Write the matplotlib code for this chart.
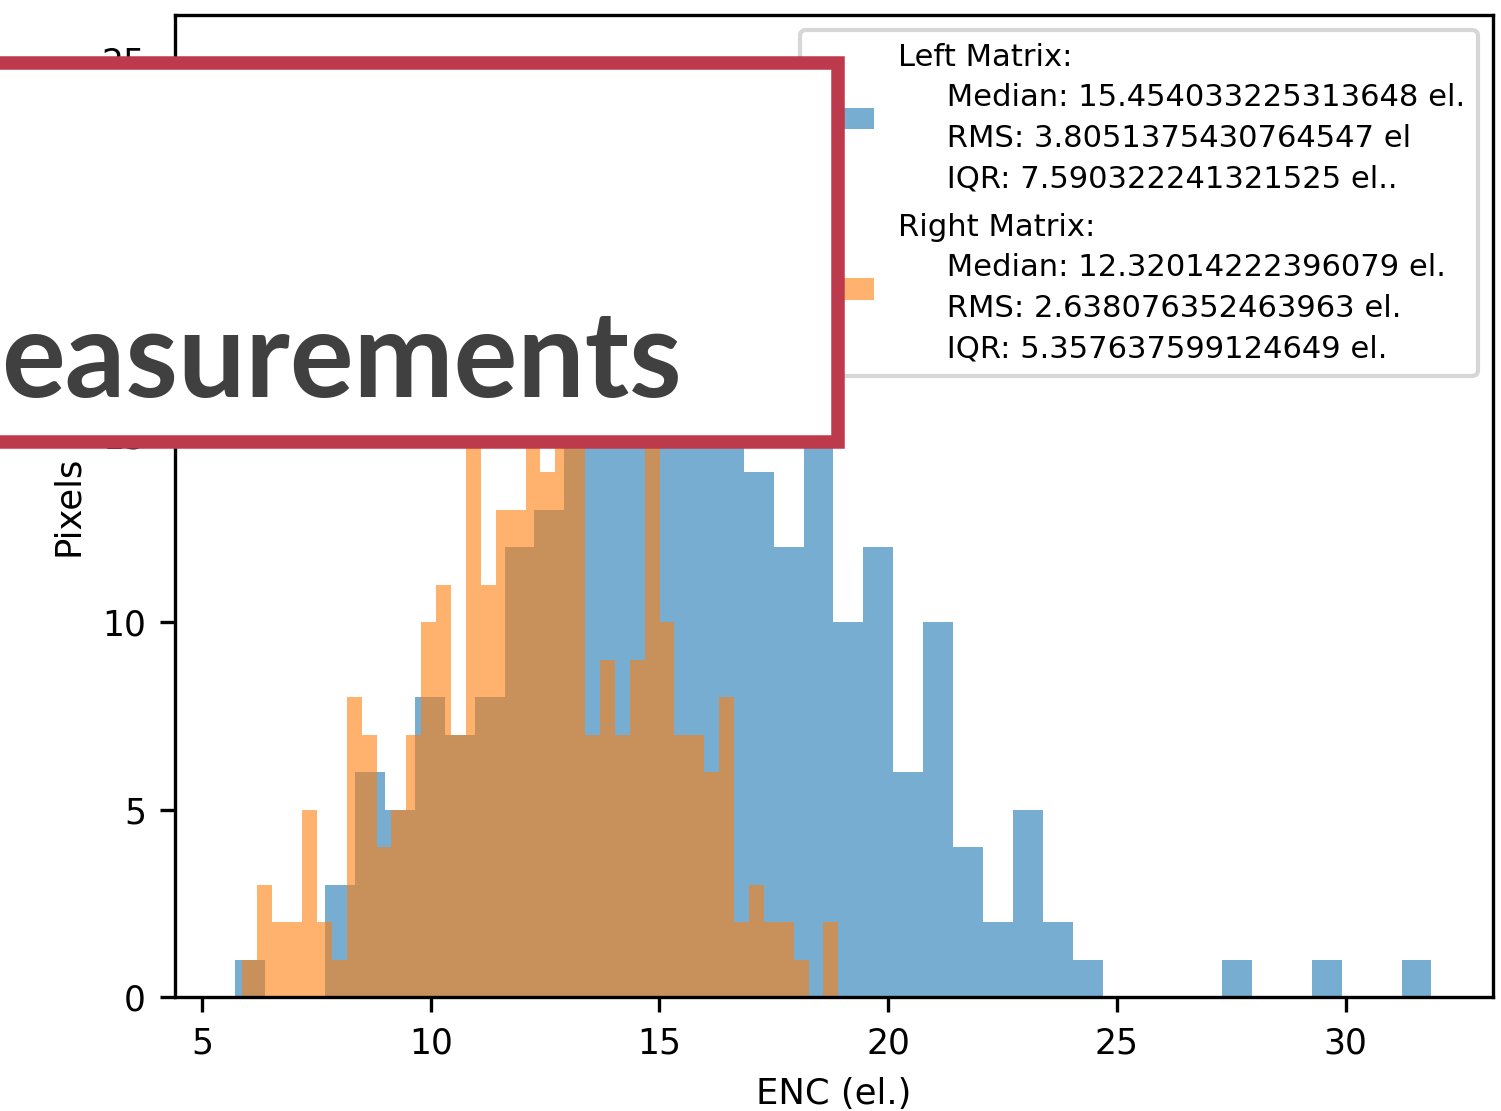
import numpy as np
import matplotlib
matplotlib.use("Agg")
import matplotlib.pyplot as plt
from matplotlib.patches import Rectangle

# ENC histograms, 40 bins each; counts
# (bars hidden under the title box are estimated)
LEFT_RANGE = (5.731, 31.874)
LEFT_COUNTS = [1, 0, 0, 3, 6, 5, 8, 7, 8, 12,
               13, 16, 21, 25, 19, 22, 17, 14, 12, 16,
               10, 12, 6, 10, 4, 2, 5, 2, 1, 0,
               0, 0, 0, 1, 0, 0, 1, 0, 0, 1]
RIGHT_RANGE = (5.885, 18.91)
RIGHT_COUNTS = [1, 3, 2, 2, 5, 2, 1, 8, 7, 4,
                5, 7, 10, 11, 7, 17, 11, 13, 13, 21,
                14, 15, 16, 7, 9, 7, 9, 15, 10, 7,
                7, 6, 8, 2, 3, 2, 2, 1, 0, 2]

INDENT = "     "
LEFT_LABEL = ("Left Matrix:\n"
              + INDENT + "Median: 15.454033225313648 el.\n"
              + INDENT + "RMS: 3.8051375430764547 el\n"
              + INDENT + "IQR: 7.590322241321525 el..")
RIGHT_LABEL = ("Right Matrix:\n"
               + INDENT + "Median: 12.32014222396079 el.\n"
               + INDENT + "RMS: 2.638076352463963 el.\n"
               + INDENT + "IQR: 5.357637599124649 el.")

X_TICKS = [5, 10, 15, 20, 25, 30]
Y_TICKS = [0, 5, 10, 15, 20, 25]

# the visible part of the slide title (its first letter is off the slide)
TITLE = "easurements"

BOX_RED = "#bc3a4b"
TITLE_GREY = "#404040"

fig = plt.figure(figsize=(1501 / 300, 1111 / 300), dpi=300)
ax = fig.add_axes([0.11659, 0.10261, 0.87808, 0.88389])

left_edges = np.linspace(LEFT_RANGE[0], LEFT_RANGE[1], len(LEFT_COUNTS) + 1)
right_edges = np.linspace(RIGHT_RANGE[0], RIGHT_RANGE[1], len(RIGHT_COUNTS) + 1)

ax.hist(left_edges[:-1], bins=left_edges, weights=LEFT_COUNTS,
        alpha=0.6, label=LEFT_LABEL)
ax.hist(right_edges[:-1], bins=right_edges, weights=RIGHT_COUNTS,
        alpha=0.6, label=RIGHT_LABEL)

ax.set_xlim(4.41, 33.22)
ax.set_ylim(0, 26.2)
ax.set_xticks(X_TICKS)
ax.set_yticks(Y_TICKS)
ax.tick_params(axis="both", labelsize=8.3)
ax.set_xlabel("ENC (el.)", fontsize=8.5)
ax.set_ylabel("Pixels", fontsize=8.5)

leg = ax.legend(loc="upper right", fontsize=7.35, labelspacing=0.65)
for t in leg.get_texts():
    t.set_linespacing(1.5)

# slide title box laid over the chart
box = Rectangle((-0.05, 0.6025), 0.05 + 0.5585, 0.9435 - 0.6025,
                transform=fig.transFigure, facecolor="white",
                edgecolor=BOX_RED, linewidth=3.24, zorder=10)
fig.add_artist(box)
fig.text(0.0005, 0.6427, TITLE, ha="left", va="baseline",
         fontsize=28.7, family="Lato", fontweight="bold",
         color=TITLE_GREY, zorder=11)

fig.savefig("out.png", dpi=300)
plt.close(fig)
